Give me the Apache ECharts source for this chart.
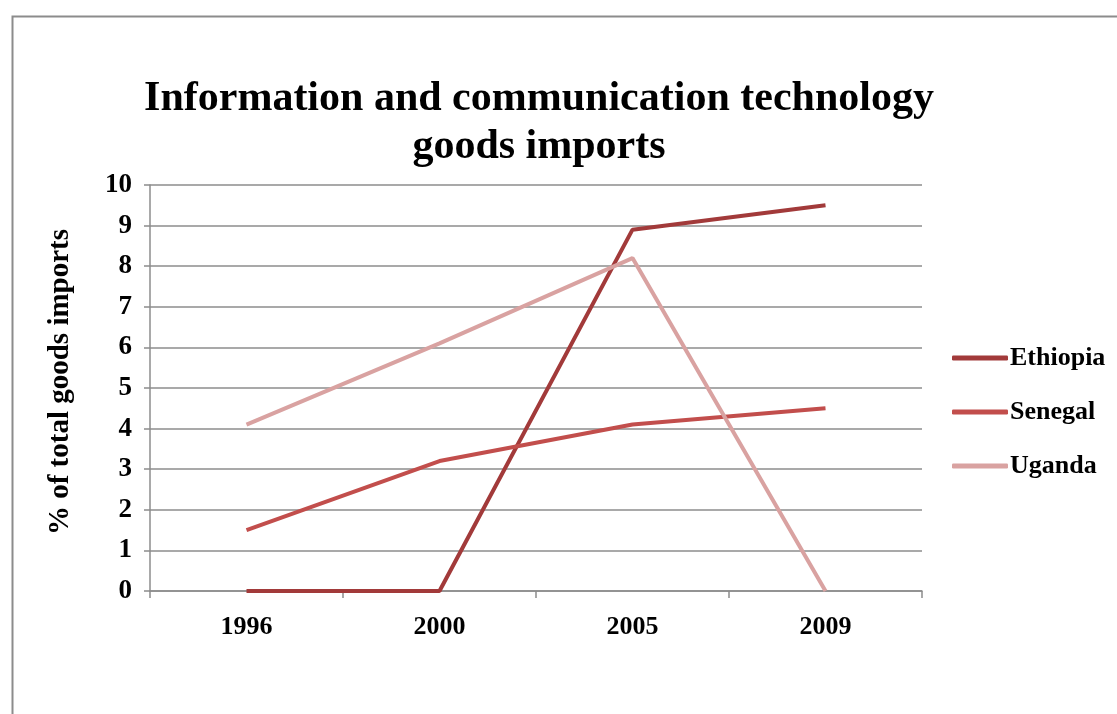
<!DOCTYPE html>
<html>
<head>
<meta charset="utf-8">
<script src="https://cdn.jsdelivr.net/npm/echarts@6/dist/echarts.min.js"></script>
<style>html,body{margin:0;padding:0;background:#fff;}#c{width:1117px;height:714px;}</style>
</head>
<body>
<div id="c"></div>
<script>
var years = ['1996', '2000', '2005', '2009'];
var ethiopia = [0, 0, 8.9, 9.5];
var senegal = [1.5, 3.2, 4.1, 4.5];
var uganda = [4.1, 6.1, 8.2, 0];
var yTicks = [0, 1, 2, 3, 4, 5, 6, 7, 8, 9, 10];

var serif = '"Liberation Serif", "Times New Roman", serif';
var chart = echarts.init(document.getElementById('c'));
function mk(name, data, color) {
  return {
    name: name, type: 'line', data: data, symbol: 'none', showSymbol: false,
    lineStyle: { color: color, width: 4 }, itemStyle: { color: color },
    animation: false
  };
}
chart.setOption({
  animation: false,
  backgroundColor: '#fff',
  graphic: [{
    type: 'rect', left: 10, top: 14, silent: true,
    shape: { width: 1200, height: 800 },
    style: { fill: 'none', stroke: '#8c8c8c', lineWidth: 2 }
  }],
  title: {
    text: 'Information and communication technology\ngoods imports',
    left: 534, textAlign: 'center', top: 70,
    textStyle: { fontFamily: serif, fontWeight: 'bold', fontSize: 42, lineHeight: 48, color: '#000' }
  },
  legend: {
    orient: 'vertical', left: 947, top: 339,
    icon: 'roundRect', itemWidth: 56, itemHeight: 5, itemGap: 26,
    textStyle: { fontFamily: serif, fontWeight: 'bold', fontSize: 26, color: '#000', lineHeight: 28, padding: [0, 0, 0, -3] },
    data: ['Ethiopia', 'Senegal', 'Uganda']
  },
  grid: { left: 150, right: 195, top: 185, bottom: 123, containLabel: false },
  xAxis: {
    type: 'category', data: years, boundaryGap: true,
    axisLine: { lineStyle: { color: '#8c8c8c', width: 1.5 } },
    axisTick: { show: true, length: 7, alignWithLabel: false, lineStyle: { color: '#8c8c8c', width: 1.5 } },
    axisLabel: { fontFamily: serif, fontWeight: 'bold', fontSize: 26, color: '#000', margin: 23 },
    splitLine: { show: false }
  },
  yAxis: {
    type: 'value', min: 0, max: 10, interval: 1,
    name: '% of total goods imports', nameLocation: 'middle', nameGap: 75, nameRotate: 90,
    nameTextStyle: { fontFamily: serif, fontWeight: 'bold', fontSize: 29, color: '#000', padding: [0, 0, 0, 12] },
    axisLine: { show: true, lineStyle: { color: '#8c8c8c', width: 1.5 } },
    axisTick: { show: true, length: 6, lineStyle: { color: '#8c8c8c', width: 1.5 } },
    axisLabel: { fontFamily: serif, fontWeight: 'bold', fontSize: 27, color: '#000', margin: 18,
      formatter: function (v) { return yTicks.indexOf(v) >= 0 ? String(v) : ''; } },
    splitLine: { show: true, lineStyle: { color: '#8c8c8c', width: 1.5 } }
  },
  series: [
    mk('Ethiopia', ethiopia, '#A23A3A'),
    mk('Senegal', senegal, '#C24E4C'),
    mk('Uganda', uganda, '#D9A2A1')
  ]
});
</script>
</body>
</html>
